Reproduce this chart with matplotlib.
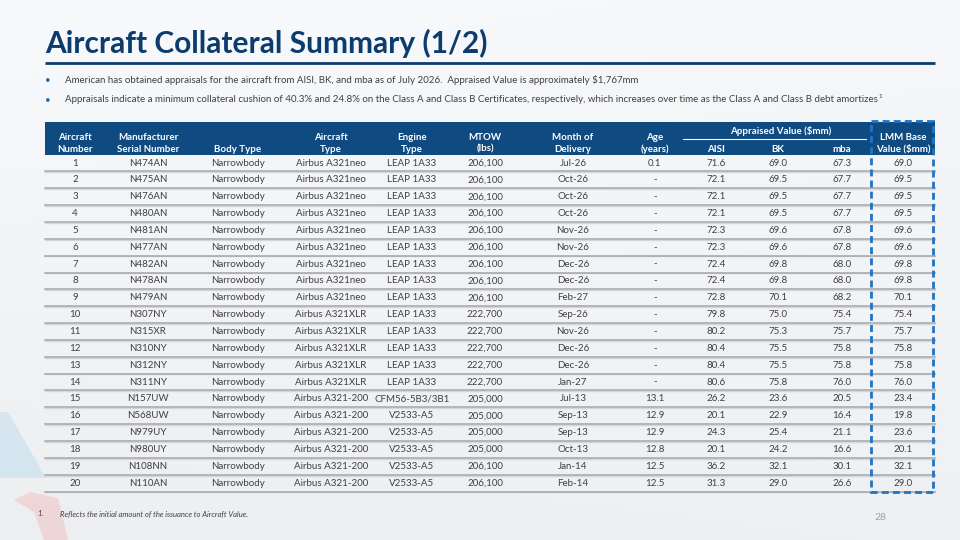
import matplotlib.pyplot as plt
import numpy as np
from matplotlib.patches import Rectangle, Polygon

plt.rcParams['font.family'] = ['Lato', 'DejaVu Sans']

# ---- data ----
aircraft_no = list(range(1, 21))
msn = ["N474AN", "N475AN", "N476AN", "N480AN", "N481AN", "N477AN", "N482AN", "N478AN",
       "N479AN", "N307NY", "N315XR", "N310NY", "N312NY", "N311NY", "N157UW", "N568UW",
       "N979UY", "N980UY", "N108NN", "N110AN"]
body_type = ["Narrowbody"] * 20
aircraft_type = ["Airbus A321neo"] * 9 + ["Airbus A321XLR"] * 5 + ["Airbus A321-200"] * 6
engine_type = ["LEAP 1A33"] * 14 + ["CFM56-5B3/3B1"] + ["V2533-A5"] * 5
mtow = [206100] * 9 + [222700] * 5 + [205000] * 4 + [206100] * 2
delivery = ["Jul-26", "Oct-26", "Oct-26", "Oct-26", "Nov-26", "Nov-26", "Dec-26", "Dec-26",
            "Feb-27", "Sep-26", "Nov-26", "Dec-26", "Dec-26", "Jan-27", "Jul-13", "Sep-13",
            "Sep-13", "Oct-13", "Jan-14", "Feb-14"]
age = [0.1] + [None] * 13 + [13.1, 12.9, 12.9, 12.8, 12.5, 12.5]
aisi = [71.6, 72.1, 72.1, 72.1, 72.3, 72.3, 72.4, 72.4, 72.8, 79.8, 80.2, 80.4, 80.4, 80.6,
        26.2, 20.1, 24.3, 20.1, 36.2, 31.3]
bk = [69.0, 69.5, 69.5, 69.5, 69.6, 69.6, 69.8, 69.8, 70.1, 75.0, 75.3, 75.5, 75.5, 75.8,
      23.6, 22.9, 25.4, 24.2, 32.1, 29.0]
mba = [67.3, 67.7, 67.7, 67.7, 67.8, 67.8, 68.0, 68.0, 68.2, 75.4, 75.7, 75.8, 75.8, 76.0,
       20.5, 16.4, 21.1, 16.6, 30.1, 26.6]
lmm = [69.0, 69.5, 69.5, 69.5, 69.6, 69.6, 69.8, 69.8, 70.1, 75.4, 75.7, 75.8, 75.8, 76.0,
       23.4, 19.8, 23.6, 20.1, 32.1, 29.0]

headers = [("Aircraft", "Number"), ("Manufacturer", "Serial Number"), ("", "Body Type"),
           ("Aircraft", "Type"), ("Engine", "Type"), ("MTOW", "(lbs)"),
           ("Month of", "Delivery"), ("Age", "(years)"), ("", "AISI"), ("", "BK"),
           ("", "mba"), ("LMM Base", "Value ($mm)")]

title = "Aircraft Collateral Summary (1/2)"
bullets = ["American has obtained appraisals for the aircraft from AISI, BK, and mba as of July 2026.  "
           "Appraised Value is approximately $1,767mm",
           "Appraisals indicate a minimum collateral cushion of 40.3% and 24.8% on the Class A and "
           "Class B Certificates, respectively, which increases over time as the Class A and Class B debt amortizes"]
footnote = "Reflects the initial amount of the issuance to Aircraft Value."

NAVY = "#0f4a80"
TITLE_C = "#0c3c6e"
TEXT_C = "#404040"

fig = plt.figure(figsize=(9.6, 5.4), dpi=100)
ax = fig.add_axes([0, 0, 1, 1])
ax.set_xlim(0, 960)
ax.set_ylim(540, 0)
ax.axis('off')

# background gradient
g = np.linspace(0, 1, 256)
xx, yy = np.meshgrid(g, g)
bg = 0.975 - 0.045 * (0.6 * yy + 0.4 * (1 - xx) * yy) - 0.01 * xx
ax.imshow(np.dstack([bg, bg + 0.004, bg + 0.014]).clip(0, 1), extent=(0, 960, 540, 0),
          aspect='auto', zorder=0)

# faint decorative shapes bottom-left
ax.add_patch(Polygon([(0, 412), (8, 412), (46, 478), (0, 478)], closed=True,
                     facecolor="#a9d3ec", alpha=0.35, lw=0, zorder=0.5))
ax.add_patch(Polygon([(14, 500), (30, 492), (58, 498), (68, 540), (44, 540), (34, 512)],
                     closed=True, facecolor="#f2a8a8", alpha=0.35, lw=0, zorder=0.5))

# title + rule
ax.text(45, 53, title, fontsize=21.5, fontweight='bold', color=TITLE_C, va='baseline', ha='left')
ax.plot([45, 935], [63, 63], color=TITLE_C, lw=2, solid_capstyle='butt')

# bullets
for i, b in enumerate(bullets):
    y = 80 + i * 20
    ax.text(48, y, "\u2022", fontsize=7, color="#1f6fb4", va='center', ha='center')
    t = ax.text(65, y, b, fontsize=7.0, color=TEXT_C, va='center', ha='left')
    if i == 1:
        fig.canvas.draw()
        bb = t.get_window_extent()
        xe = bb.x1 + 1
        ax.text(xe, y - 4, "1", fontsize=4.5, color=TEXT_C, va='center', ha='left')

# table layout
col_x = [75, 148, 238, 331, 412, 485, 573, 655, 716, 778, 842, 903]
hdr_top, hdr_bot = 122, 155
row0, row_h = 163, 16.85
ax.add_patch(Rectangle((45, hdr_top), 890, hdr_bot - hdr_top, facecolor=NAVY, lw=0, zorder=1))
for x, (l1, l2) in zip(col_x, headers):
    if l1:
        ax.text(x, 138, l1, fontsize=7, fontweight='bold', color='white', ha='center', va='center', zorder=3)
    ax.text(x, 149, l2, fontsize=7, fontweight='bold', color='white', ha='center', va='center', zorder=3)
ax.text((col_x[8] + col_x[10]) / 2 + 2, 131, "Appraised Value ($mm)", fontsize=7, fontweight='bold',
        color='white', ha='center', va='center', zorder=3)
ax.plot([683, 866], [139, 139], color='white', lw=0.8, zorder=3)

for i in range(len(aircraft_no)):
    y = row0 + i * row_h
    vals = [str(aircraft_no[i]), msn[i], body_type[i], aircraft_type[i], engine_type[i],
            f"{mtow[i]:,}", delivery[i], "-" if age[i] is None else f"{age[i]:.1f}",
            f"{aisi[i]:.1f}", f"{bk[i]:.1f}", f"{mba[i]:.1f}", f"{lmm[i]:.1f}"]
    for x, v in zip(col_x, vals):
        ax.text(x, y, v, fontsize=7, color=TEXT_C, ha='center', va='center', zorder=3)
    ys = y + row_h / 2
    ax.plot([45, 935], [ys + 0.8, ys + 0.8], color="#d4d6da", lw=1.0, zorder=2)
    ax.plot([45, 935], [ys, ys], color="#a3a6ab", lw=1.1, zorder=2)

# dashed highlight box on LMM column
y_end = row0 + (len(aircraft_no) - 0.5) * row_h
ax.add_patch(Rectangle((871, 121), 62, y_end - 121, fill=False, edgecolor="#1f74c4",
                       lw=2, linestyle=(0, (2.5, 1.5)), zorder=4))

# footnote + page number
ax.text(37, 514, "1.", fontsize=5.5, style='italic', color=TEXT_C, va='center', ha='left')
ax.text(60, 514, footnote, fontsize=5.5, style='italic', color=TEXT_C, va='center', ha='left')
ax.text(880, 517, "28", fontsize=7.5, color="#a0a0a0", va='center', ha='center')

fig.savefig("out.png", dpi=100)
